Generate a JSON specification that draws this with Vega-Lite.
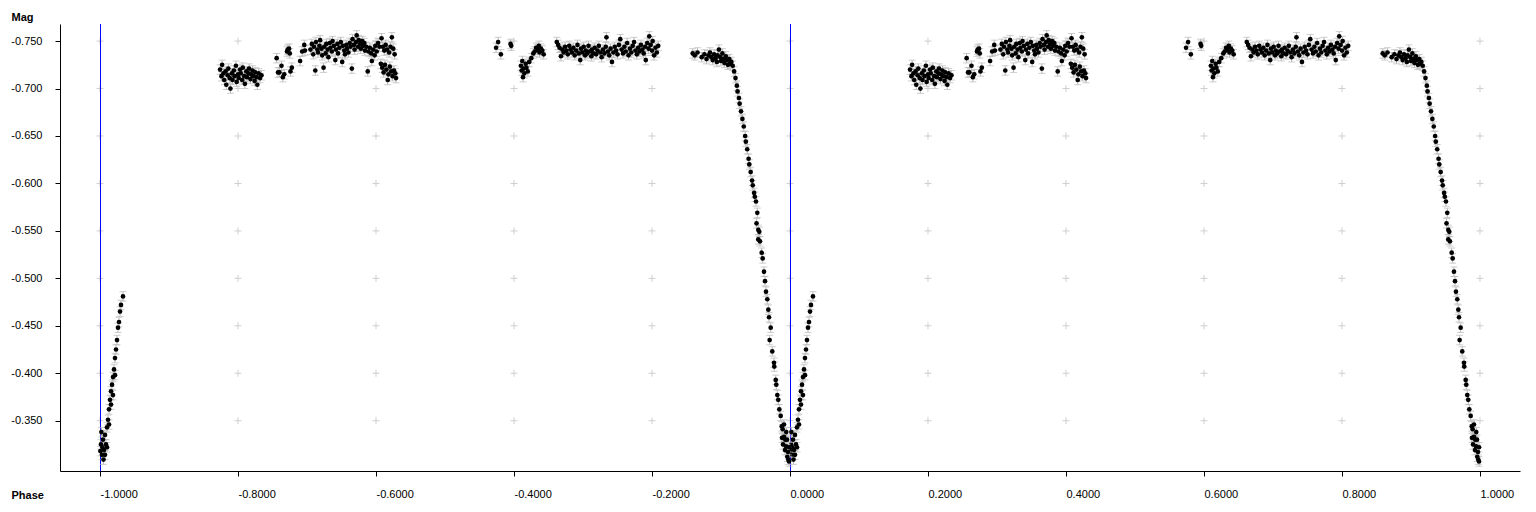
{
"$schema":"https://vega.github.io/schema/vega-lite/v6.json",
"width":1460,"height":447,
"autosize":{"type":"none"},
"padding":{"left":60,"top":24,"right":16,"bottom":41},
"background":"#ffffff",
"config":{"view":{"stroke":null},"axis":{"labelFont":"Liberation Sans","labelFontSize":11,"labelColor":"#000000","domainColor":"#000000","tickColor":"#000000","tickSize":5,"grid":false,"titleFont":"Liberation Sans","titleFontSize":11,"titleFontWeight":"bold","titleColor":"#000000"}},
"datasets":{"lc":[
{"phase":0.0005,"mag":-0.318,"err":0.005},{"phase":0.0014,"mag":-0.325,"err":0.005},{"phase":0.0020,"mag":-0.338,"err":0.005},{"phase":0.0029,"mag":-0.314,"err":0.005},{"phase":0.0035,"mag":-0.322,"err":0.005},{"phase":0.0043,"mag":-0.330,"err":0.005},{"phase":0.0050,"mag":-0.309,"err":0.005},{"phase":0.0058,"mag":-0.319,"err":0.005},{"phase":0.0072,"mag":-0.335,"err":0.005},{"phase":0.0072,"mag":-0.314,"err":0.005},{"phase":0.0087,"mag":-0.325,"err":0.005},{"phase":0.0101,"mag":-0.343,"err":0.005},{"phase":0.0101,"mag":-0.322,"err":0.005},{"phase":0.0116,"mag":-0.351,"err":0.005},{"phase":0.0130,"mag":-0.362,"err":0.005},{"phase":0.0130,"mag":-0.346,"err":0.005},{"phase":0.0145,"mag":-0.372,"err":0.005},{"phase":0.0159,"mag":-0.381,"err":0.005},{"phase":0.0159,"mag":-0.367,"err":0.005},{"phase":0.0174,"mag":-0.388,"err":0.005},{"phase":0.0188,"mag":-0.396,"err":0.005},{"phase":0.0188,"mag":-0.377,"err":0.005},{"phase":0.0203,"mag":-0.404,"err":0.005},{"phase":0.0217,"mag":-0.416,"err":0.005},{"phase":0.0217,"mag":-0.398,"err":0.005},{"phase":0.0232,"mag":-0.425,"err":0.005},{"phase":0.0246,"mag":-0.435,"err":0.005},{"phase":0.0261,"mag":-0.448,"err":0.005},{"phase":0.0275,"mag":-0.454,"err":0.005},{"phase":0.0290,"mag":-0.465,"err":0.005},{"phase":0.0304,"mag":-0.472,"err":0.005},{"phase":0.0333,"mag":-0.481,"err":0.005},
{"phase":0.174,"mag":-0.720,"err":0.005},{"phase":0.176,"mag":-0.713,"err":0.005},{"phase":0.177,"mag":-0.725,"err":0.005},{"phase":0.179,"mag":-0.716,"err":0.005},{"phase":0.180,"mag":-0.709,"err":0.005},{"phase":0.182,"mag":-0.718,"err":0.005},{"phase":0.183,"mag":-0.704,"err":0.005},{"phase":0.185,"mag":-0.714,"err":0.005},{"phase":0.186,"mag":-0.721,"err":0.005},{"phase":0.188,"mag":-0.711,"err":0.005},{"phase":0.189,"mag":-0.700,"err":0.005},{"phase":0.191,"mag":-0.716,"err":0.005},{"phase":0.192,"mag":-0.709,"err":0.005},{"phase":0.194,"mag":-0.719,"err":0.005},{"phase":0.195,"mag":-0.713,"err":0.005},{"phase":0.197,"mag":-0.724,"err":0.005},{"phase":0.198,"mag":-0.707,"err":0.005},{"phase":0.200,"mag":-0.715,"err":0.005},{"phase":0.201,"mag":-0.711,"err":0.005},{"phase":0.203,"mag":-0.720,"err":0.005},{"phase":0.204,"mag":-0.716,"err":0.005},{"phase":0.206,"mag":-0.709,"err":0.005},{"phase":0.207,"mag":-0.722,"err":0.005},{"phase":0.209,"mag":-0.713,"err":0.005},{"phase":0.210,"mag":-0.705,"err":0.005},{"phase":0.212,"mag":-0.718,"err":0.005},{"phase":0.213,"mag":-0.712,"err":0.005},{"phase":0.215,"mag":-0.716,"err":0.005},{"phase":0.216,"mag":-0.721,"err":0.005},{"phase":0.218,"mag":-0.710,"err":0.005},{"phase":0.219,"mag":-0.715,"err":0.005},{"phase":0.221,"mag":-0.719,"err":0.005},{"phase":0.222,"mag":-0.713,"err":0.005},{"phase":0.224,"mag":-0.708,"err":0.005},{"phase":0.225,"mag":-0.717,"err":0.005},{"phase":0.227,"mag":-0.712,"err":0.005},{"phase":0.228,"mag":-0.704,"err":0.005},{"phase":0.230,"mag":-0.716,"err":0.005},{"phase":0.232,"mag":-0.711,"err":0.005},{"phase":0.234,"mag":-0.714,"err":0.005},
{"phase":0.256,"mag":-0.732,"err":0.005},{"phase":0.258,"mag":-0.717,"err":0.005},{"phase":0.260,"mag":-0.717,"err":0.005},{"phase":0.263,"mag":-0.724,"err":0.005},{"phase":0.265,"mag":-0.712,"err":0.005},{"phase":0.267,"mag":-0.715,"err":0.005},{"phase":0.271,"mag":-0.739,"err":0.005},{"phase":0.272,"mag":-0.741,"err":0.005},{"phase":0.274,"mag":-0.742,"err":0.005},{"phase":0.275,"mag":-0.737,"err":0.005},{"phase":0.276,"mag":-0.718,"err":0.005},{"phase":0.278,"mag":-0.722,"err":0.005},{"phase":0.290,"mag":-0.729,"err":0.005},{"phase":0.293,"mag":-0.739,"err":0.005},{"phase":0.296,"mag":-0.746,"err":0.005},{"phase":0.297,"mag":-0.740,"err":0.005},
{"phase":0.305,"mag":-0.741,"err":0.005},{"phase":0.307,"mag":-0.747,"err":0.005},{"phase":0.309,"mag":-0.736,"err":0.005},{"phase":0.310,"mag":-0.744,"err":0.005},{"phase":0.312,"mag":-0.719,"err":0.005},{"phase":0.313,"mag":-0.749,"err":0.005},{"phase":0.315,"mag":-0.741,"err":0.005},{"phase":0.316,"mag":-0.738,"err":0.005},{"phase":0.318,"mag":-0.745,"err":0.005},{"phase":0.319,"mag":-0.751,"err":0.005},{"phase":0.321,"mag":-0.742,"err":0.005},{"phase":0.322,"mag":-0.735,"err":0.005},{"phase":0.324,"mag":-0.722,"err":0.005},{"phase":0.325,"mag":-0.744,"err":0.005},{"phase":0.327,"mag":-0.737,"err":0.005},{"phase":0.328,"mag":-0.747,"err":0.005},{"phase":0.330,"mag":-0.741,"err":0.005},{"phase":0.331,"mag":-0.733,"err":0.005},{"phase":0.333,"mag":-0.748,"err":0.005},{"phase":0.334,"mag":-0.743,"err":0.005},{"phase":0.336,"mag":-0.739,"err":0.005},{"phase":0.337,"mag":-0.750,"err":0.005},{"phase":0.339,"mag":-0.745,"err":0.005},{"phase":0.341,"mag":-0.730,"err":0.005},{"phase":0.342,"mag":-0.741,"err":0.005},{"phase":0.344,"mag":-0.747,"err":0.005},{"phase":0.345,"mag":-0.737,"err":0.005},{"phase":0.347,"mag":-0.743,"err":0.005},{"phase":0.349,"mag":-0.749,"err":0.005},{"phase":0.351,"mag":-0.728,"err":0.005},{"phase":0.352,"mag":-0.745,"err":0.005},{"phase":0.354,"mag":-0.740,"err":0.005},{"phase":0.355,"mag":-0.736,"err":0.005},{"phase":0.357,"mag":-0.746,"err":0.005},{"phase":0.358,"mag":-0.742,"err":0.005},{"phase":0.360,"mag":-0.738,"err":0.005},{"phase":0.362,"mag":-0.748,"err":0.005},{"phase":0.363,"mag":-0.744,"err":0.005},{"phase":0.365,"mag":-0.721,"err":0.005},{"phase":0.366,"mag":-0.752,"err":0.005},{"phase":0.368,"mag":-0.746,"err":0.005},{"phase":0.369,"mag":-0.741,"err":0.005},{"phase":0.371,"mag":-0.749,"err":0.005},{"phase":0.372,"mag":-0.756,"err":0.005},{"phase":0.374,"mag":-0.744,"err":0.005},{"phase":0.375,"mag":-0.751,"err":0.005},{"phase":0.377,"mag":-0.747,"err":0.005},{"phase":0.378,"mag":-0.742,"err":0.005},{"phase":0.380,"mag":-0.750,"err":0.005},{"phase":0.381,"mag":-0.745,"err":0.005},{"phase":0.383,"mag":-0.748,"err":0.005},{"phase":0.384,"mag":-0.740,"err":0.005},{"phase":0.386,"mag":-0.744,"err":0.005},{"phase":0.388,"mag":-0.718,"err":0.005},{"phase":0.389,"mag":-0.739,"err":0.005},{"phase":0.391,"mag":-0.743,"err":0.005},{"phase":0.393,"mag":-0.737,"err":0.005},{"phase":0.394,"mag":-0.729,"err":0.005},{"phase":0.396,"mag":-0.741,"err":0.005},{"phase":0.398,"mag":-0.735,"err":0.005},{"phase":0.399,"mag":-0.745,"err":0.005},{"phase":0.401,"mag":-0.739,"err":0.005},{"phase":0.403,"mag":-0.748,"err":0.005},{"phase":0.405,"mag":-0.744,"err":0.005},{"phase":0.407,"mag":-0.726,"err":0.005},{"phase":0.408,"mag":-0.753,"err":0.005},{"phase":0.409,"mag":-0.722,"err":0.005},{"phase":0.410,"mag":-0.744,"err":0.005},{"phase":0.411,"mag":-0.717,"err":0.005},{"phase":0.412,"mag":-0.740,"err":0.005},{"phase":0.413,"mag":-0.725,"err":0.005},{"phase":0.414,"mag":-0.746,"err":0.005},{"phase":0.415,"mag":-0.720,"err":0.005},{"phase":0.416,"mag":-0.741,"err":0.005},{"phase":0.417,"mag":-0.709,"err":0.005},{"phase":0.418,"mag":-0.715,"err":0.005},{"phase":0.419,"mag":-0.738,"err":0.005},{"phase":0.420,"mag":-0.723,"err":0.005},{"phase":0.421,"mag":-0.744,"err":0.005},{"phase":0.422,"mag":-0.718,"err":0.005},{"phase":0.423,"mag":-0.754,"err":0.005},{"phase":0.424,"mag":-0.713,"err":0.005},{"phase":0.425,"mag":-0.742,"err":0.005},{"phase":0.426,"mag":-0.719,"err":0.005},{"phase":0.427,"mag":-0.736,"err":0.005},{"phase":0.428,"mag":-0.716,"err":0.005},{"phase":0.429,"mag":-0.711,"err":0.005},
{"phase":0.574,"mag":-0.743,"err":0.005},{"phase":0.577,"mag":-0.749,"err":0.005},{"phase":0.581,"mag":-0.736,"err":0.005},{"phase":0.595,"mag":-0.747,"err":0.005},{"phase":0.596,"mag":-0.745,"err":0.005},{"phase":0.610,"mag":-0.724,"err":0.005},{"phase":0.611,"mag":-0.719,"err":0.005},{"phase":0.612,"mag":-0.729,"err":0.005},{"phase":0.613,"mag":-0.712,"err":0.005},{"phase":0.614,"mag":-0.721,"err":0.005},{"phase":0.615,"mag":-0.716,"err":0.005},{"phase":0.617,"mag":-0.726,"err":0.005},{"phase":0.618,"mag":-0.722,"err":0.005},{"phase":0.620,"mag":-0.718,"err":0.005},{"phase":0.622,"mag":-0.728,"err":0.005},{"phase":0.625,"mag":-0.732,"err":0.005},{"phase":0.628,"mag":-0.737,"err":0.005},{"phase":0.630,"mag":-0.739,"err":0.005},{"phase":0.632,"mag":-0.743,"err":0.005},{"phase":0.634,"mag":-0.741,"err":0.005},{"phase":0.636,"mag":-0.745,"err":0.005},{"phase":0.637,"mag":-0.738,"err":0.005},{"phase":0.639,"mag":-0.742,"err":0.005},{"phase":0.641,"mag":-0.740,"err":0.005},{"phase":0.643,"mag":-0.736,"err":0.005},
{"phase":0.662,"mag":-0.749,"err":0.005},{"phase":0.664,"mag":-0.746,"err":0.005},{"phase":0.666,"mag":-0.743,"err":0.005},{"phase":0.668,"mag":-0.734,"err":0.005},{"phase":0.670,"mag":-0.741,"err":0.005},{"phase":0.672,"mag":-0.738,"err":0.005},{"phase":0.674,"mag":-0.744,"err":0.005},{"phase":0.676,"mag":-0.740,"err":0.005},{"phase":0.678,"mag":-0.736,"err":0.005},{"phase":0.680,"mag":-0.745,"err":0.005},{"phase":0.682,"mag":-0.741,"err":0.005},{"phase":0.684,"mag":-0.738,"err":0.005},{"phase":0.686,"mag":-0.743,"err":0.005},{"phase":0.688,"mag":-0.735,"err":0.005},{"phase":0.690,"mag":-0.740,"err":0.005},{"phase":0.692,"mag":-0.746,"err":0.005},{"phase":0.694,"mag":-0.737,"err":0.005},{"phase":0.696,"mag":-0.730,"err":0.005},{"phase":0.697,"mag":-0.742,"err":0.005},{"phase":0.699,"mag":-0.738,"err":0.005},{"phase":0.701,"mag":-0.744,"err":0.005},{"phase":0.703,"mag":-0.735,"err":0.005},{"phase":0.704,"mag":-0.740,"err":0.005},{"phase":0.706,"mag":-0.737,"err":0.005},{"phase":0.708,"mag":-0.745,"err":0.005},{"phase":0.710,"mag":-0.739,"err":0.005},{"phase":0.712,"mag":-0.734,"err":0.005},{"phase":0.713,"mag":-0.741,"err":0.005},{"phase":0.715,"mag":-0.737,"err":0.005},{"phase":0.717,"mag":-0.743,"err":0.005},{"phase":0.719,"mag":-0.736,"err":0.005},{"phase":0.721,"mag":-0.740,"err":0.005},{"phase":0.723,"mag":-0.745,"err":0.005},{"phase":0.725,"mag":-0.738,"err":0.005},{"phase":0.727,"mag":-0.733,"err":0.005},{"phase":0.729,"mag":-0.741,"err":0.005},{"phase":0.731,"mag":-0.737,"err":0.005},{"phase":0.733,"mag":-0.744,"err":0.005},{"phase":0.734,"mag":-0.754,"err":0.005},{"phase":0.736,"mag":-0.739,"err":0.005},{"phase":0.738,"mag":-0.735,"err":0.005},{"phase":0.740,"mag":-0.742,"err":0.005},{"phase":0.742,"mag":-0.728,"err":0.005},{"phase":0.744,"mag":-0.738,"err":0.005},{"phase":0.746,"mag":-0.744,"err":0.005},{"phase":0.748,"mag":-0.740,"err":0.005},{"phase":0.750,"mag":-0.736,"err":0.005},{"phase":0.752,"mag":-0.746,"err":0.005},{"phase":0.754,"mag":-0.752,"err":0.005},{"phase":0.756,"mag":-0.741,"err":0.005},{"phase":0.758,"mag":-0.737,"err":0.005},{"phase":0.760,"mag":-0.744,"err":0.005},{"phase":0.762,"mag":-0.739,"err":0.005},{"phase":0.764,"mag":-0.748,"err":0.005},{"phase":0.766,"mag":-0.735,"err":0.005},{"phase":0.768,"mag":-0.742,"err":0.005},{"phase":0.770,"mag":-0.738,"err":0.005},{"phase":0.772,"mag":-0.745,"err":0.005},{"phase":0.774,"mag":-0.749,"err":0.005},{"phase":0.776,"mag":-0.740,"err":0.005},{"phase":0.778,"mag":-0.736,"err":0.005},{"phase":0.780,"mag":-0.743,"err":0.005},{"phase":0.782,"mag":-0.739,"err":0.005},{"phase":0.784,"mag":-0.746,"err":0.005},{"phase":0.786,"mag":-0.741,"err":0.005},{"phase":0.788,"mag":-0.737,"err":0.005},{"phase":0.790,"mag":-0.744,"err":0.005},{"phase":0.791,"mag":-0.730,"err":0.005},{"phase":0.793,"mag":-0.748,"err":0.005},{"phase":0.795,"mag":-0.742,"err":0.005},{"phase":0.796,"mag":-0.755,"err":0.005},{"phase":0.798,"mag":-0.746,"err":0.005},{"phase":0.800,"mag":-0.740,"err":0.005},{"phase":0.801,"mag":-0.750,"err":0.005},{"phase":0.803,"mag":-0.735,"err":0.005},{"phase":0.805,"mag":-0.743,"err":0.005},{"phase":0.807,"mag":-0.738,"err":0.005},{"phase":0.809,"mag":-0.745,"err":0.005},
{"phase":0.859,"mag":-0.737,"err":0.005},{"phase":0.862,"mag":-0.735,"err":0.005},{"phase":0.866,"mag":-0.738,"err":0.005},{"phase":0.872,"mag":-0.733,"err":0.005},{"phase":0.876,"mag":-0.736,"err":0.005},{"phase":0.879,"mag":-0.731,"err":0.005},{"phase":0.882,"mag":-0.735,"err":0.005},{"phase":0.884,"mag":-0.738,"err":0.005},{"phase":0.886,"mag":-0.733,"err":0.005},{"phase":0.888,"mag":-0.730,"err":0.005},{"phase":0.890,"mag":-0.736,"err":0.005},{"phase":0.892,"mag":-0.732,"err":0.005},{"phase":0.894,"mag":-0.728,"err":0.005},{"phase":0.895,"mag":-0.735,"err":0.005},{"phase":0.897,"mag":-0.741,"err":0.005},{"phase":0.899,"mag":-0.733,"err":0.005},{"phase":0.900,"mag":-0.729,"err":0.005},{"phase":0.902,"mag":-0.737,"err":0.005},{"phase":0.904,"mag":-0.731,"err":0.005},{"phase":0.905,"mag":-0.727,"err":0.005},{"phase":0.907,"mag":-0.734,"err":0.005},{"phase":0.909,"mag":-0.730,"err":0.005},{"phase":0.910,"mag":-0.725,"err":0.005},{"phase":0.912,"mag":-0.731,"err":0.005},{"phase":0.913,"mag":-0.726,"err":0.005},
{"phase":0.915,"mag":-0.728,"err":0.005},{"phase":0.917,"mag":-0.724,"err":0.005},{"phase":0.919,"mag":-0.718,"err":0.005},{"phase":0.921,"mag":-0.711,"err":0.005},{"phase":0.923,"mag":-0.703,"err":0.005},{"phase":0.924,"mag":-0.697,"err":0.005},{"phase":0.926,"mag":-0.690,"err":0.005},{"phase":0.927,"mag":-0.684,"err":0.005},{"phase":0.929,"mag":-0.676,"err":0.005},{"phase":0.931,"mag":-0.668,"err":0.005},{"phase":0.933,"mag":-0.660,"err":0.005},{"phase":0.935,"mag":-0.650,"err":0.005},{"phase":0.936,"mag":-0.644,"err":0.005},{"phase":0.938,"mag":-0.636,"err":0.005},{"phase":0.940,"mag":-0.626,"err":0.005},{"phase":0.941,"mag":-0.620,"err":0.005},{"phase":0.943,"mag":-0.612,"err":0.005},{"phase":0.945,"mag":-0.603,"err":0.005},{"phase":0.946,"mag":-0.598,"err":0.005},{"phase":0.948,"mag":-0.590,"err":0.005},{"phase":0.949,"mag":-0.586,"err":0.005},
{"phase":0.9507,"mag":-0.581,"err":0.005},{"phase":0.9526,"mag":-0.569,"err":0.005},{"phase":0.9515,"mag":-0.558,"err":0.005},{"phase":0.9541,"mag":-0.551,"err":0.005},{"phase":0.9555,"mag":-0.549,"err":0.005},{"phase":0.9540,"mag":-0.541,"err":0.005},{"phase":0.9565,"mag":-0.539,"err":0.005},{"phase":0.9590,"mag":-0.527,"err":0.005},{"phase":0.9604,"mag":-0.521,"err":0.005},{"phase":0.9623,"mag":-0.507,"err":0.005},{"phase":0.9638,"mag":-0.497,"err":0.005},{"phase":0.9652,"mag":-0.486,"err":0.005},{"phase":0.9671,"mag":-0.478,"err":0.005},{"phase":0.9686,"mag":-0.467,"err":0.005},{"phase":0.9696,"mag":-0.459,"err":0.005},{"phase":0.9720,"mag":-0.448,"err":0.005},{"phase":0.9705,"mag":-0.435,"err":0.005},{"phase":0.9743,"mag":-0.423,"err":0.005},{"phase":0.9768,"mag":-0.411,"err":0.005},{"phase":0.9772,"mag":-0.407,"err":0.005},{"phase":0.9793,"mag":-0.393,"err":0.005},{"phase":0.9801,"mag":-0.388,"err":0.005},{"phase":0.9816,"mag":-0.377,"err":0.005},{"phase":0.9830,"mag":-0.372,"err":0.005},{"phase":0.9845,"mag":-0.362,"err":0.005},{"phase":0.9865,"mag":-0.355,"err":0.005},{"phase":0.9880,"mag":-0.344,"err":0.005},{"phase":0.9894,"mag":-0.341,"err":0.005},{"phase":0.9913,"mag":-0.333,"err":0.005},{"phase":0.9932,"mag":-0.330,"err":0.005},{"phase":0.9942,"mag":-0.323,"err":0.005},{"phase":0.9961,"mag":-0.312,"err":0.005},{"phase":0.9975,"mag":-0.309,"err":0.005},
{"phase":0.9899,"mag":-0.325,"err":0.005},{"phase":0.9928,"mag":-0.319,"err":0.005},{"phase":0.9957,"mag":-0.330,"err":0.005},{"phase":0.9986,"mag":-0.322,"err":0.005},{"phase":0.9946,"mag":-0.338,"err":0.005},{"phase":0.9913,"mag":-0.346,"err":0.005},{"phase":0.9971,"mag":-0.317,"err":0.005},{"phase":0.9884,"mag":-0.332,"err":0.005},{"phase":0.9986,"mag":-0.307,"err":0.005}
]},
"resolve":{"scale":{"x":"independent"},"axis":{"y":"independent"}},
"layer":[
{"data":{"values":[
{"gx":-1,"gy":[-0.75,-0.7,-0.65,-0.6,-0.55,-0.5,-0.45,-0.4,-0.35]},
{"gx":-0.8,"gy":[-0.75,-0.7,-0.65,-0.6,-0.55,-0.5,-0.45,-0.4,-0.35]},
{"gx":-0.6,"gy":[-0.75,-0.7,-0.65,-0.6,-0.55,-0.5,-0.45,-0.4,-0.35]},
{"gx":-0.4,"gy":[-0.75,-0.7,-0.65,-0.6,-0.55,-0.5,-0.45,-0.4,-0.35]},
{"gx":-0.2,"gy":[-0.75,-0.7,-0.65,-0.6,-0.55,-0.5,-0.45,-0.4,-0.35]},
{"gx":0,"gy":[-0.75,-0.7,-0.65,-0.6,-0.55,-0.5,-0.45,-0.4,-0.35]},
{"gx":0.2,"gy":[-0.75,-0.7,-0.65,-0.6,-0.55,-0.5,-0.45,-0.4,-0.35]},
{"gx":0.4,"gy":[-0.75,-0.7,-0.65,-0.6,-0.55,-0.5,-0.45,-0.4,-0.35]},
{"gx":0.6,"gy":[-0.75,-0.7,-0.65,-0.6,-0.55,-0.5,-0.45,-0.4,-0.35]},
{"gx":0.8,"gy":[-0.75,-0.7,-0.65,-0.6,-0.55,-0.5,-0.45,-0.4,-0.35]},
{"gx":1,"gy":[-0.75,-0.7,-0.65,-0.6,-0.55,-0.5,-0.45,-0.4,-0.35]}
]},
"transform":[{"flatten":["gy"]}],
"mark":{"type":"point","shape":"M-1,0L1,0M0,-1L0,1","size":49,"filled":false,"stroke":"#cfcfcf","strokeWidth":1,"opacity":1},
"encoding":{
"x":{"field":"gx","type":"quantitative","scale":{"domain":[-1.058,1.058],"nice":false,"zero":false},
"axis":{"values":[-1,-0.8,-0.6,-0.4,-0.2,0,0.2,0.4,0.6,0.8,1],"labelExpr":"(datum.value < 0 ? '-' : '') + format(abs(datum.value), '.4f')","labelAlign":"left","labelPadding":12,"labelFlush":false,"labelOverlap":false,"title":"Phase","titleX":-49,"titleY":27,"titleAlign":"left","titleBaseline":"alphabetic","titleAngle":0}},
"y":{"field":"gy","type":"quantitative","scale":{"domain":[-0.768,-0.297],"reverse":true,"nice":false,"zero":false},
"axis":{"values":[-0.75,-0.7,-0.65,-0.6,-0.55,-0.5,-0.45,-0.4,-0.35],"labelExpr":"'-' + format(abs(datum.value), '.3f')","labelPadding":13,"labelOverlap":false,"labelFlush":false,"title":"Mag","titleAngle":0,"titleX":-49,"titleY":-4,"titleAlign":"left","titleBaseline":"alphabetic"}}
}},
{"data":{"values":[{"bx":-1},{"bx":0}]},
"mark":{"type":"rule","color":"#0000ff","strokeWidth":1,"xOffset":0.5},
"encoding":{"x":{"field":"bx","type":"quantitative","scale":{"domain":[-1.058,1.058],"nice":false,"zero":false},"axis":null}}},
{"data":{"name":"lc"},
"encoding":{
"x":{"field":"phase","type":"quantitative","scale":{"domain":[-1.058,1.058],"nice":false,"zero":false},"axis":null},
"y":{"field":"mag","type":"quantitative","scale":{"domain":[-0.768,-0.297],"reverse":true,"nice":false,"zero":false},"axis":null}},
"layer":[
{"mark":{"type":"errorbar","ticks":{"size":7,"color":"#b8b8b8"},"rule":{"color":"#b8b8b8"}},"encoding":{"yError":{"field":"err"}}},
{"mark":{"type":"circle","size":22,"color":"#000000","opacity":1}}
]},
{"data":{"name":"lc"},
"encoding":{
"x":{"field":"phase","type":"quantitative","scale":{"domain":[-0.058,2.058],"nice":false,"zero":false},"axis":null},
"y":{"field":"mag","type":"quantitative","scale":{"domain":[-0.768,-0.297],"reverse":true,"nice":false,"zero":false},"axis":null}},
"layer":[
{"mark":{"type":"errorbar","ticks":{"size":7,"color":"#b8b8b8"},"rule":{"color":"#b8b8b8"}},"encoding":{"yError":{"field":"err"}}},
{"mark":{"type":"circle","size":22,"color":"#000000","opacity":1}}
]}
]
}
